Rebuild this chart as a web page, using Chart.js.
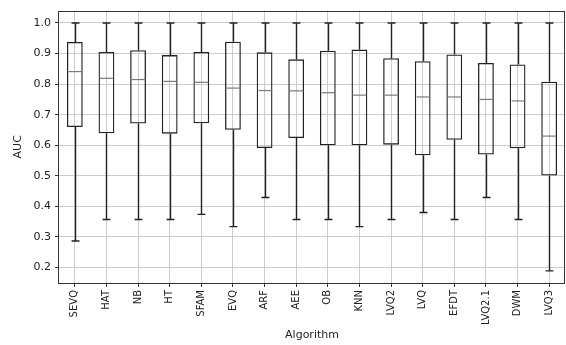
<!DOCTYPE html>
<html>
<head>
<meta charset="utf-8">
<script src="https://cdn.jsdelivr.net/npm/chart.js@4.4.1/dist/chart.umd.min.js"></script>
<style>
  html, body { margin: 0; padding: 0; background: #fff; }
  canvas { display: block; }
</style>
</head>
<body>
<canvas id="grafico-auc" width="566" height="345"></canvas>
<script>
const algoritmos = ['SEVQ', 'HAT', 'NB', 'HT', 'SFAM', 'EVQ', 'ARF', 'AEE', 'OB', 'KNN', 'LVQ2', 'LVQ', 'EFDT', 'LVQ2.1', 'DWM', 'LVQ3'];
const bigodeBaixo = [0.287, 0.357, 0.357, 0.357, 0.374, 0.334, 0.429, 0.357, 0.357, 0.334, 0.357, 0.380, 0.357, 0.429, 0.357, 0.189];
const q1 = [0.660, 0.639, 0.671, 0.638, 0.672, 0.651, 0.591, 0.624, 0.600, 0.600, 0.602, 0.567, 0.618, 0.570, 0.590, 0.501];
const mediana = [0.841, 0.819, 0.815, 0.809, 0.806, 0.787, 0.779, 0.778, 0.772, 0.764, 0.764, 0.758, 0.758, 0.750, 0.745, 0.630];
const q3 = [0.938, 0.905, 0.911, 0.895, 0.905, 0.939, 0.904, 0.881, 0.909, 0.913, 0.885, 0.875, 0.897, 0.869, 0.864, 0.808];
const bigodeAlto = [1.0, 1.0, 1.0, 1.0, 1.0, 1.0, 1.0, 1.0, 1.0, 1.0, 1.0, 1.0, 1.0, 1.0, 1.0, 1.0];
const ticksY = [0.2, 0.3, 0.4, 0.5, 0.6, 0.7, 0.8, 0.9, 1.0];

const corLinha = '#222';
const corGrade = '#cccccc';
const corEixo = '#333';

// bigodes, tampas e medianas desenhados pelas escalas do grafico
const pluginBoxplot = {
  id: 'boxplot',
  afterDatasetsDraw(chart) {
    const ctx = chart.ctx;
    const sx = chart.scales.x;
    const sy = chart.scales.y;
    const barras = chart.getDatasetMeta(0).data;
    ctx.save();
    ctx.lineCap = 'butt';
    algoritmos.forEach(function (_, i) {
      const x = Math.round(sx.getPixelForValue(i)) + 0.5;
      const meia = barras[i].width / 2;
      const tampa = meia / 2;
      const yLo = sy.getPixelForValue(bigodeBaixo[i]);
      const yQ1 = sy.getPixelForValue(q1[i]);
      const yQ3 = sy.getPixelForValue(q3[i]);
      const yHi = sy.getPixelForValue(bigodeAlto[i]);
      const yMed = sy.getPixelForValue(mediana[i]);

      ctx.strokeStyle = corLinha;
      ctx.lineWidth = 1.4;
      ctx.beginPath();
      ctx.moveTo(x, yQ3); ctx.lineTo(x, yHi);
      ctx.moveTo(x, yQ1); ctx.lineTo(x, yLo);
      ctx.moveTo(x - tampa, yHi); ctx.lineTo(x + tampa, yHi);
      ctx.moveTo(x - tampa, yLo); ctx.lineTo(x + tampa, yLo);
      ctx.stroke();

      ctx.strokeStyle = '#7a7a7a';
      ctx.lineWidth = 1.2;
      ctx.beginPath();
      ctx.moveTo(x - meia + 1, yMed); ctx.lineTo(x + meia - 1, yMed);
      ctx.stroke();
    });
    ctx.restore();
  },
  afterDraw(chart) {
    // moldura dos quatro lados
    const a = chart.chartArea;
    const ctx = chart.ctx;
    ctx.save();
    ctx.strokeStyle = corEixo;
    ctx.lineWidth = 1;
    const l = Math.round(a.left) - 0.5;
    const t = Math.round(a.top) + 0.5;
    const r = Math.round(a.right) - 0.5;
    const b = Math.round(a.bottom) + 0.5;
    ctx.strokeRect(l, t, r - l, b - t);
    ctx.restore();
  }
};

const ctxAuc = document.getElementById('grafico-auc');
new Chart(ctxAuc, {
  type: 'bar',
  data: {
    labels: algoritmos,
    datasets: [{
      label: 'AUC',
      data: algoritmos.map(function (_, i) { return [q1[i], q3[i]]; }),
      backgroundColor: 'rgba(0, 0, 0, 0)',
      borderColor: corLinha,
      borderWidth: 1.3,
      borderSkipped: false,
      barPercentage: 0.5,
      categoryPercentage: 1
    }]
  },
  options: {
    responsive: false,
    animation: false,
    devicePixelRatio: 1,
    layout: { padding: { top: 8, right: 1, left: 0, bottom: 0 } },
    plugins: {
      legend: { display: false },
      tooltip: { enabled: false }
    },
    scales: {
      x: {
        offset: true,
        grid: { color: corGrade, lineWidth: 1, offset: false, tickLength: 4, tickColor: corEixo, tickWidth: 1 },
        border: { display: false },
        ticks: {
          autoSkip: false, minRotation: 90, maxRotation: 90, padding: 3,
          color: corLinha, font: { family: 'DejaVu Sans', size: 10 }
        },
        title: {
          display: true, text: 'Algorithm', color: corLinha,
          font: { family: 'DejaVu Sans', size: 11 }, padding: { top: 4, bottom: 3 }
        },
        afterFit: function (s) { s.height = 62; }
      },
      y: {
        min: 0.1495,
        max: 1.0405,
        afterBuildTicks: function (s) { s.ticks = ticksY.map(function (v) { return { value: v }; }); },
        grid: { color: corGrade, lineWidth: 1, tickLength: 4, tickColor: corEixo, tickWidth: 1 },
        border: { display: false },
        ticks: {
          padding: 4, color: corLinha,
          font: { family: 'DejaVu Sans', size: 11 },
          callback: function (v) { return Number(v).toFixed(1); }
        },
        title: {
          display: true, text: 'AUC', color: corLinha,
          font: { family: 'DejaVu Sans', size: 11 }, padding: { top: 12, bottom: 0 }
        },
        afterFit: function (s) { s.width = 59; }
      }
    }
  },
  plugins: [pluginBoxplot]
});
</script>
</body>
</html>
